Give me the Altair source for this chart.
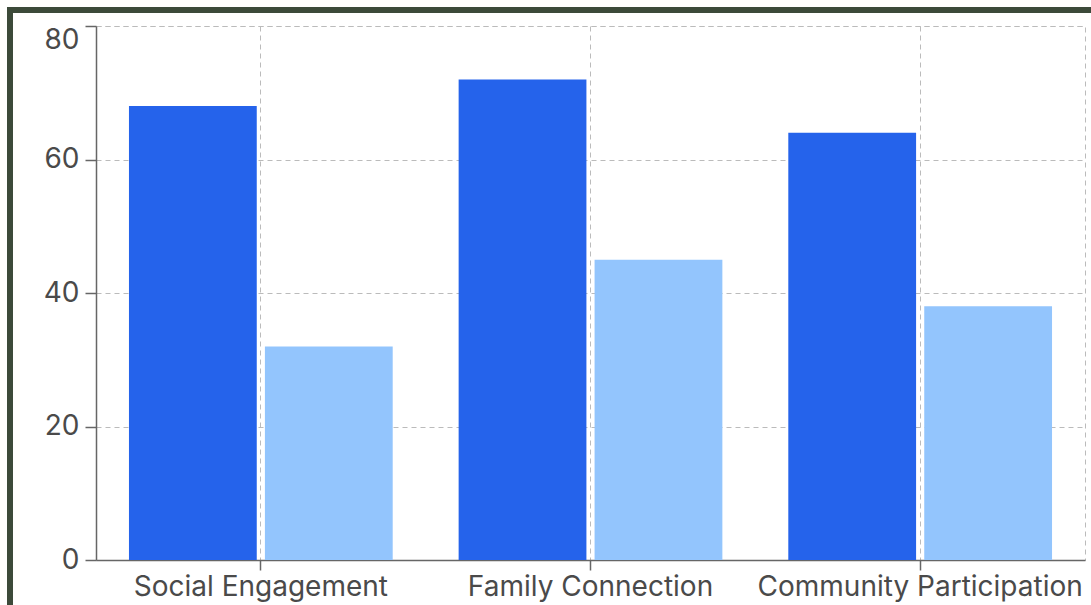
import altair as alt
import pandas as pd

categories = ["Social Engagement", "Family Connection", "Community Participation"]
series = ["Group A", "Group B"]
values_a = [68, 72, 64]
values_b = [32, 45, 38]
colors = ["#2563eb", "#93c5fd"]
y_ticks = [0, 20, 40, 60, 80]

rows = []
for c, a, b in zip(categories, values_a, values_b):
    rows.append({"category": c, "series": series[0], "value": a})
    rows.append({"category": c, "series": series[1], "value": b})
df = pd.DataFrame(rows)

FONT = "Inter"
TEXT = "#4a4a4a"
AXIS = "#666666"

bars = alt.Chart(df).mark_bar().encode(
    x=alt.X(
        "category:N",
        sort=categories,
        title=None,
        scale=alt.Scale(paddingInner=0.2, paddingOuter=0.1),
        axis=alt.Axis(labelAngle=0, grid=True, tickSize=10, labelPadding=3, labelLimit=0),
    ),
    xOffset=alt.XOffset("series:N", sort=series, scale=alt.Scale(paddingInner=0.06)),
    y=alt.Y(
        "value:Q",
        title=None,
        scale=alt.Scale(domain=[0, 80], nice=False),
        axis=alt.Axis(
            values=y_ticks,
            tickSize=11,
            labelPadding=6,
            labelOffset={"condition": {"test": "datum.value == 80", "value": 14}, "value": 0},
        ),
    ),
    color=alt.Color("series:N", scale=alt.Scale(domain=series, range=colors), legend=None),
)

frame = alt.Chart(alt.Data(values=[{}])).mark_rect(
    fillOpacity=0, stroke="#3c4a3a", strokeWidth=6
).encode(
    x=alt.value(-86), x2=alt.value(1300), y=alt.value(-16), y2=alt.value(800)
)

chart = alt.layer(bars, frame).properties(
    width=989,
    height=534,
    autosize=alt.AutoSizeParams(type="none"),
    padding={"left": 96, "top": 26, "right": 6, "bottom": 45},
    background="white",
).configure_view(
    stroke="#bbbbbb", strokeDash=[5, 4], strokeWidth=1
).configure_axis(
    domainColor=AXIS,
    domainWidth=1.5,
    tickColor=AXIS,
    tickWidth=1.5,
    labelColor=TEXT,
    labelFont=FONT,
    labelFontSize=28,
    gridColor="#bbbbbb",
    gridDash=[5, 4],
    gridWidth=1,
)

chart.save("out.html", embed_options={"renderer": "svg", "actions": False})
